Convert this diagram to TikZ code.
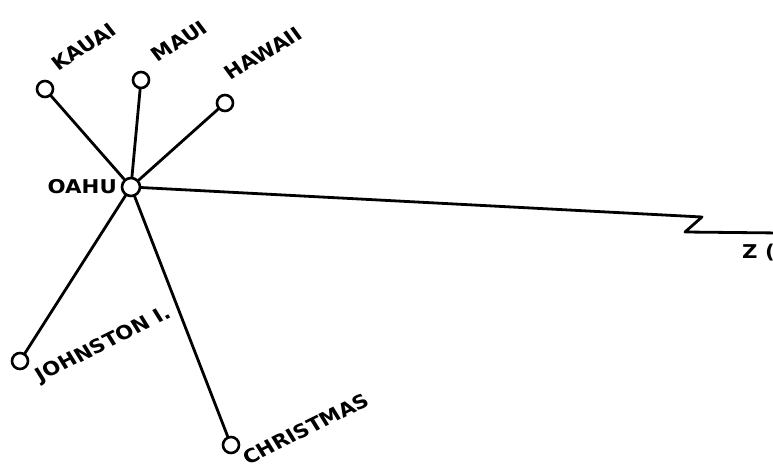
\documentclass[tikz,border=0pt]{standalone}
\usepackage{fontspec}
\setmainfont{DejaVu Sans}
\usetikzlibrary{positioning,calc}

\tikzset{
  isle/.style={circle, draw, line width=2.6pt, minimum size=16pt, inner sep=0pt, fill=white},
  hub/.style={isle, minimum size=18pt},
  route/.style={line width=2.8pt, line cap=round, line join=round},
  islename/.style={font=\bfseries\fontsize{19}{19}\selectfont, inner sep=0pt, xscale=1.12}
}

\begin{document}
\begin{tikzpicture}[x=1pt, y=-1pt]
\useasboundingbox (0,0) rectangle (773,470);
\begin{scope}
\clip (0,0) rectangle (773,470);
% islands
\node[hub]  (oahu)      at (131,187) {};
\node[isle] (kauai)     at (45,89)   {};
\node[isle] (maui)      at (141,80)  {};
\node[isle] (hawaii)    at (225,103) {};
\node[isle] (johnston)  at (20,361)  {};
\node[isle] (christmas) at (231,445) {};
% break in the long route
\coordinate (zA) at (702,217);
\coordinate (zB) at (685,232);
\coordinate (zC) at (780,233);
% routes
\foreach \dest in {kauai,maui,hawaii,johnston,christmas} {
  \draw[route] (oahu) -- (\dest);
}
\draw[route] (oahu) -- (zA) -- (zB) -- (zC);
% labels
\node[islename, anchor=east] (oahulbl) at (117,187) {OAHU};
\node[islename, rotate=35] at (84,47)  {KAUAI};
\node[islename, rotate=34] at (179,41) {MAUI};
\node[islename, rotate=33] at (263,53) {HAWAII};
\node[islename, rotate=29] at (104,345) {JOHNSTON I.};
\node[islename, rotate=29] at (306,429) {CHRISTMAS};
\node[islename, anchor=west] (zlbl) at (742,253) {Z (};
\end{scope}
\end{tikzpicture}
\end{document}
